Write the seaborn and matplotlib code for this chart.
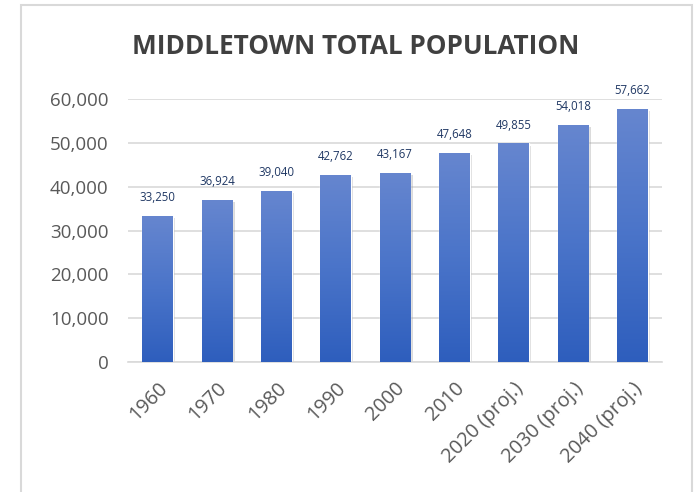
import matplotlib
matplotlib.use("Agg")
import matplotlib.pyplot as plt
import matplotlib.patches as mpatches
import matplotlib.patheffects as pe
from matplotlib.colors import LinearSegmentedColormap
import numpy as np
import pandas as pd
import seaborn as sns

categories = ["1960", "1970", "1980", "1990", "2000", "2010",
              "2020 (proj.)", "2030 (proj.)", "2040 (proj.)"]
population = [33250, 36924, 39040, 42762, 43167, 47648, 49855, 54018, 57662]
y_ticks = [0, 10000, 20000, 30000, 40000, 50000, 60000]
title = "MIDDLETOWN TOTAL POPULATION"

sns.set_theme(style="white")
plt.rcParams["font.family"] = ["Open Sans", "DejaVu Sans"]

df = pd.DataFrame({"year": categories, "pop": population})

fig = plt.figure(figsize=(6.96, 4.92), dpi=100)
ax = fig.add_axes([128/696, 1-362/492, (662-128)/696, (362-99)/492])

sns.barplot(data=df, x="year", y="pop", ax=ax, color="#4472c4",
            width=0.52, saturation=1, errorbar=None)

ax.set_ylim(0, 60000)
ax.set_xlim(-0.5, len(categories) - 0.5)

# gradient fill clipped to bars
cmap = LinearSegmentedColormap.from_list("g", ["#2e5ebd", "#4a74c9", "#6686cf"])
grad = np.linspace(0, 1, 256).reshape(-1, 1)
for bar in ax.patches:
    x0, y0 = bar.get_x(), bar.get_y()
    w, h = bar.get_width(), bar.get_height()
    bar.set_path_effects([pe.SimplePatchShadow(offset=(1.5, -1.5), shadow_rgbFace="#9a9a9a", alpha=0.35),
                          pe.Normal()])
    im = ax.imshow(grad, extent=(x0, x0 + w, y0, y0 + h), origin="lower",
                   cmap=cmap, aspect="auto", zorder=3)
    im.set_clip_path(bar)

# data labels
for i, v in enumerate(population):
    ax.annotate(f"{v:,}", (i, v), xytext=(0, 8.5), textcoords="offset points",
                ha="center", va="bottom", fontsize=8.3, color="#203864", zorder=5)

ax.set_yticks(y_ticks)
ax.set_yticklabels([f"{t:,}" for t in y_ticks])
ax.yaxis.grid(True, color="#d9d9d9", linewidth=1.2)
ax.set_axisbelow(True)
ax.tick_params(axis="y", length=0, labelsize=13.5, labelcolor="#595959", pad=14)

ax.set_xticks(range(len(categories)))
ax.set_xticklabels(categories, rotation=45, ha="right", rotation_mode="anchor")
ax.tick_params(axis="x", which="major", length=0, labelsize=14.3, labelcolor="#595959", pad=12)
ax.set_xticks(np.arange(-0.5, len(categories)), minor=True)
ax.tick_params(axis="x", which="minor", length=6, width=1.2, color="#d9d9d9", direction="out")
ax.set_xlabel("")
ax.set_ylabel("")

for s in ["top", "right", "left"]:
    ax.spines[s].set_visible(False)
ax.spines["bottom"].set_color("#d9d9d9")
ax.spines["bottom"].set_linewidth(1.2)

fig.text(356/696, 1-47/492, title, ha="center", va="center",
         fontsize=18.8, fontweight="bold", color="#404040")

# chart frame
frame = mpatches.Rectangle((21/696, -0.1), (692-21)/696, 1.1 - 5/492,
                           transform=fig.transFigure, fill=False,
                           edgecolor="#d9d9d9", linewidth=1.5)
fig.add_artist(frame)

fig.savefig("out.png", dpi=100)
